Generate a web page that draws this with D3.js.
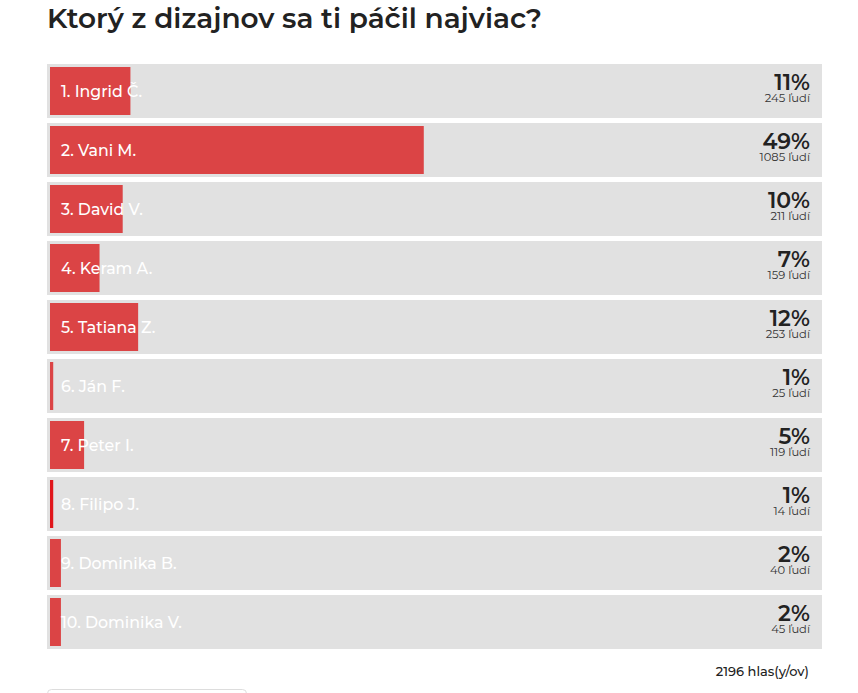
<!DOCTYPE html>
<html>
<head>
<meta charset="utf-8">
<script src="https://cdn.jsdelivr.net/npm/d3@7"></script>
<style>
  html, body { margin: 0; padding: 0; background: #fff; }
  svg { display: block; }
  text { font-family: Montserrat, "DejaVu Sans", "Noto Sans", sans-serif; }
</style>
</head>
<body>
<svg id="chart" width="858" height="693"></svg>
<script>
// ---- data ----
const title = "Ktorý z dizajnov sa ti páčil najviac?";
const names = ["1. Ingrid Č.", "2. Vani M.", "3. David V.", "4. Keram A.", "5. Tatiana Z.",
               "6. Ján F.", "7. Peter I.", "8. Filipo J.", "9. Dominika B.", "10. Dominika V."];
const counts = [245, 1085, 211, 159, 253, 25, 119, 14, 40, 45];
const percents = [11, 49, 10, 7, 12, 1, 5, 1, 2, 2];
const countUnit = "ľudí";
const totalVotes = 2196;
const totalLabel = "hlas(y/ov)";

// ---- layout ----
const svg = d3.select("#chart");
const rowLeft = 47, rowRight = 822, rowTop = 64, rowStep = 59, gap = 5, inset = 3;

const y = d3.scaleBand()
  .domain(names)
  .range([rowTop, rowTop + rowStep * names.length - gap])
  .paddingInner(gap / rowStep)
  .paddingOuter(0)
  .align(0);

const x = d3.scaleLinear().domain([0, 100]).range([-4.5, 767.5]);

svg.append("text")
  .attr("x", 47).attr("y", 28)
  .attr("font-size", 28).attr("font-weight", 600)
  .attr("fill", "#222")
  .attr("textLength", 495).attr("lengthAdjust", "spacingAndGlyphs")
  .text(title);

const rows = svg.selectAll("g.row")
  .data(names.map((n, i) => ({ name: n, count: counts[i], pct: percents[i], i })))
  .join("g").attr("class", "row")
  .attr("transform", d => `translate(0,${y(d.name)})`);

rows.append("rect")
  .attr("x", rowLeft).attr("y", 0)
  .attr("width", rowRight - rowLeft).attr("height", y.bandwidth())
  .attr("fill", "#e1e1e1");

rows.append("rect")
  .attr("x", rowLeft + inset).attr("y", inset)
  .attr("width", d => Math.max(3, x(d.pct)))
  .attr("height", y.bandwidth() - 2 * inset)
  .attr("fill", d => d.i === 7 ? "#e0161b" : "#db4445");

rows.append("text")
  .attr("x", 61).attr("y", 32.5)
  .attr("font-size", 15.8).attr("font-weight", 500)
  .attr("fill", "#fff")
  .text(d => d.name);

rows.append("text")
  .attr("x", 810).attr("y", 25.5)
  .attr("text-anchor", "end")
  .attr("font-size", 22).attr("font-weight", 600)
  .attr("fill", "#222")
  .text(d => d.pct + "%");

rows.append("text")
  .attr("x", 810).attr("y", 38)
  .attr("text-anchor", "end")
  .attr("font-size", 11.5).attr("font-weight", 400)
  .attr("fill", "#333")
  .text(d => d.count + " " + countUnit);

svg.append("text")
  .attr("x", 809).attr("y", 676)
  .attr("text-anchor", "end")
  .attr("font-size", 13).attr("font-weight", 500)
  .attr("fill", "#222")
  .text(totalVotes + " " + totalLabel);

svg.append("rect")
  .attr("x", 47.5).attr("y", 689.5)
  .attr("width", 199).attr("height", 30).attr("rx", 4)
  .attr("fill", "#fff").attr("stroke", "#ddd");
</script>
</body>
</html>
